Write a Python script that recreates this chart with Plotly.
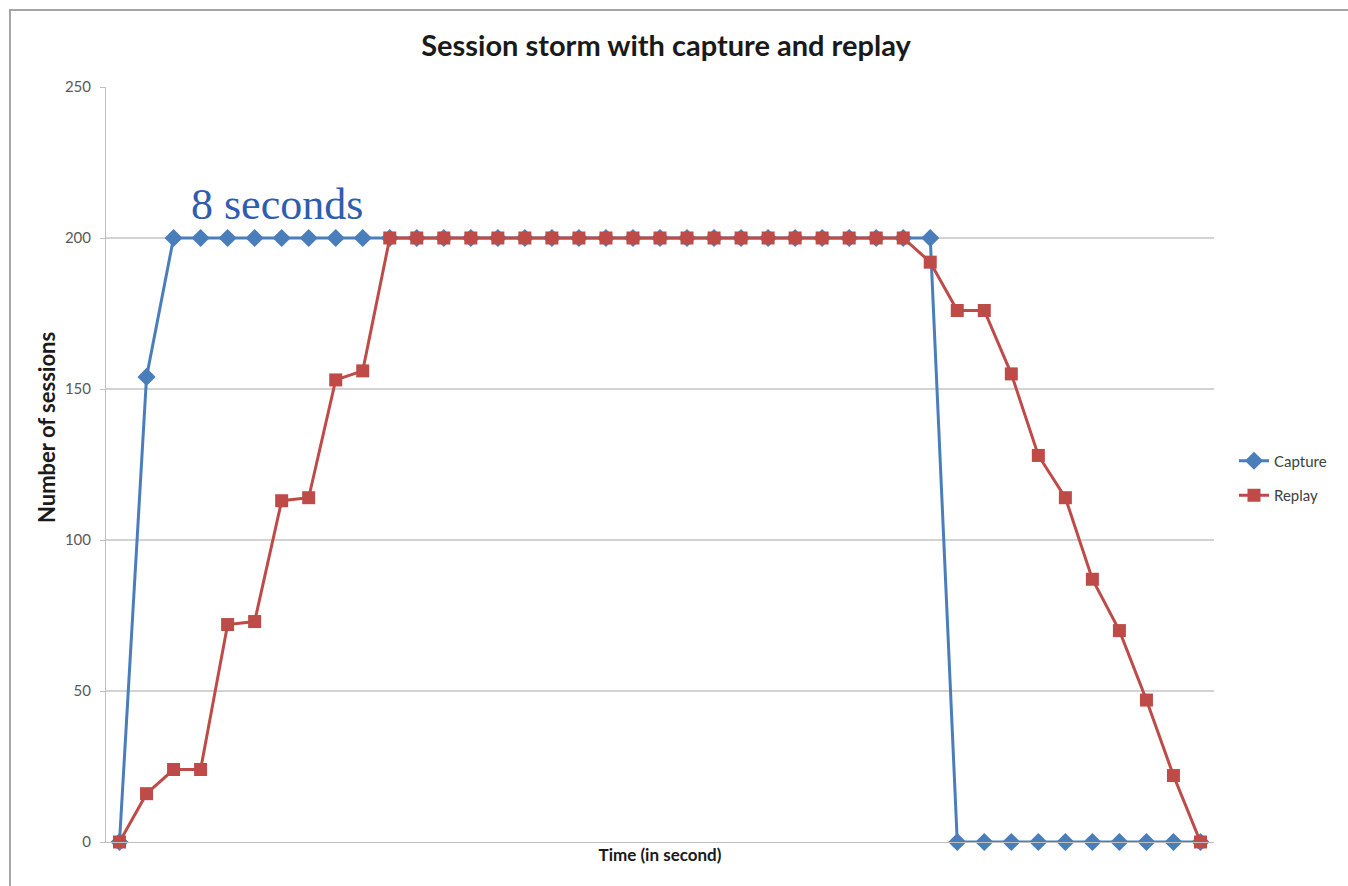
import plotly.graph_objects as go

time_idx = list(range(41))
capture = [0, 154] + [200] * 29 + [0] * 10
replay = [0, 16, 24, 24, 72, 73, 113, 114, 153, 156] + [200] * 20 + \
         [192, 176, 176, 155, 128, 114, 87, 70, 47, 22, 0]
y_ticks = [0, 50, 100, 150, 200, 250]

W, H = 1348, 886
L, R, T, B = 106, 134, 87, 44

fig = go.Figure()
fig.add_trace(go.Scatter(
    x=time_idx, y=capture, name="Capture", mode="lines+markers",
    legendgroup="c",
    line=dict(color="#4A7EBB", width=3),
    marker=dict(symbol="diamond", size=14, color="#4A7EBB"),
    cliponaxis=False))
fig.add_trace(go.Scatter(
    x=time_idx, y=replay, name="Replay", mode="lines+markers",
    legendgroup="r",
    line=dict(color="#BE4B48", width=3),
    marker=dict(symbol="square", size=13, color="#BE4B48"),
    cliponaxis=False))

pw = W - L - R
ph = H - T - B

def px(x):
    return (x - L) / pw

def py(y):
    return (H - B - y) / ph

fig.update_layout(
    width=W, height=H,
    margin=dict(l=L, r=R, t=T, b=B),
    paper_bgcolor="white", plot_bgcolor="white",
    font=dict(family="Lato, Liberation Sans, sans-serif", color="#404040"),
    title=dict(text="<b>Session storm with capture and replay</b>",
               x=666 / W, xanchor="center", y=1 - 46 / H, yanchor="middle",
               font=dict(size=29, color="#1a1a1a", family="Lato, Liberation Sans, sans-serif")),
    xaxis=dict(range=[-0.5, 40.5], showticklabels=False, showgrid=False,
               zeroline=False, showline=True, linecolor="#BFBFBF", linewidth=1,
               automargin=False,
               title=dict(text="<b>Time (in second)</b>", standoff=7,
                          font=dict(size=17, color="#1a1a1a"))),
    yaxis=dict(range=[0, 250], tickvals=y_ticks, showgrid=True,
               gridcolor="#D3D3D3", gridwidth=1.5, zeroline=False,
               showline=True, linecolor="#BFBFBF", linewidth=1,
               ticks="outside", ticklen=5, tickcolor="#BFBFBF",
               ticklabelstandoff=6, automargin=False,
               tickfont=dict(size=15, color="#595959")),
    legend=dict(x=px(1234), xanchor="left", y=py(478), yanchor="middle",
                font=dict(size=15, color="#404040"), tracegroupgap=12,
                bgcolor="rgba(0,0,0,0)"),
    showlegend=True,
)

# y-axis title (placed as in the reference, above the axis centre)
fig.add_annotation(xref="paper", yref="paper", x=px(46), y=py(428),
                   text="<b>Number of sessions</b>", textangle=-90,
                   showarrow=False, xanchor="center", yanchor="middle",
                   font=dict(size=22, color="#1a1a1a"))

fig.add_annotation(x=5.81, y=211, text="8 seconds", showarrow=False,
                   font=dict(family="Liberation Serif, DejaVu Serif, serif",
                             size=44, color="#2F5DAE"))

fig.add_shape(type="rect", xref="paper", yref="paper",
              x0=px(10), x1=px(1360), y0=py(10), y1=py(900),
              line=dict(color="#A6A6A6", width=2), layer="below")

fig.write_html("out.html", config={"displayModeBar": False},
               post_script="document.body.style.margin='0';")
